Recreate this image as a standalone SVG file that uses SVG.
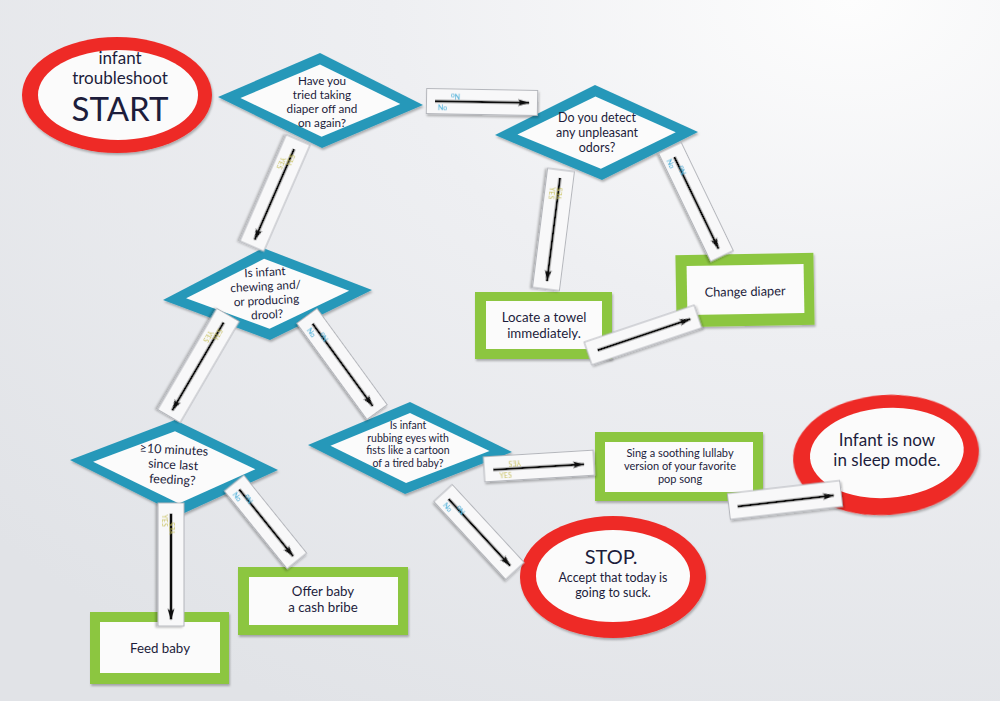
<svg xmlns="http://www.w3.org/2000/svg" width="1000" height="701" viewBox="0 0 1000 701">
<defs>
<radialGradient id="bg" cx="0.85" cy="0" r="1.15">
<stop offset="0" stop-color="#fdfdfd"/>
<stop offset="0.4" stop-color="#eeeff2"/>
<stop offset="1" stop-color="#e1e3e7"/>
</radialGradient>
<filter id="sh" x="-10%" y="-10%" width="125%" height="130%">
<feDropShadow dx="1" dy="2" stdDeviation="1.3" flood-color="#000" flood-opacity="0.28"/>
</filter>
<marker id="ah" markerWidth="12" markerHeight="8" refX="11" refY="4" orient="auto" markerUnits="userSpaceOnUse">
<path d="M0,0.6 L12,4 L0,7.4 L2.5,4 z" fill="#111"/>
</marker>
</defs>
<style>
.t{font-family:"Lato","Open Sans","Noto Sans",sans-serif;fill:#1d1d3b;text-anchor:middle}
.red{fill:#ee2a26}
.teal{fill:#2898b9}
.green{fill:#8cc63f}
.card{fill:#fbfbfb}
.strip{fill:#f8f8f9;stroke:#b4b6bb;stroke-width:1}
.arr{stroke:#111;stroke-width:2.4;marker-end:url(#ah)}
.yes{font-family:"Lato","Open Sans",sans-serif;font-size:7px;fill:#c9c25a}
.no{font-family:"Lato","Open Sans",sans-serif;font-size:7px;fill:#35a9d6}
</style>
<rect width="1000" height="701" fill="url(#bg)"/>

<!-- START -->
<g id="start">
<ellipse class="red" cx="117" cy="95" rx="95" ry="58" filter="url(#sh)"/>
<ellipse class="card" cx="118" cy="95" rx="80" ry="45"/>
<text class="t" x="120" y="64" font-size="17">infant<tspan x="120" dy="20.4">troubleshoot</tspan></text>
<text class="t" x="120" y="121" font-size="33">START</text>
</g>

<!-- Diamond 1 -->
<g id="q-diaper" transform="translate(320,101)">
<polygon class="teal" points="-102,-4 0,-48 103,4 2,47" filter="url(#sh)"/>
<polygon class="card" points="-102,-4 0,-48 103,4 2,47" transform="scale(0.78,0.76)"/>
<text class="t" x="2" y="-16" font-size="11.7">Have you<tspan x="2" dy="14">tried taking</tspan><tspan x="2" dy="14">diaper off and</tspan><tspan x="2" dy="14">on again?</tspan></text>
</g>

<!-- Diamond 2 -->
<g id="q-odors" transform="translate(597,133)">
<polygon class="teal" points="-102,2 -2,-48 101,-1 5,47" filter="url(#sh)"/>
<polygon class="card" points="-102,2 -2,-48 101,-1 5,47" transform="scale(0.78,0.76)"/>
<text class="t" x="0" y="-11" font-size="12.5">Do you detect<tspan x="0" dy="15">any unpleasant</tspan><tspan x="0" dy="15">odors?</tspan></text>
</g>

<!-- Diamond 3 -->
<g id="q-drool" transform="translate(268,293)">
<polygon class="teal" points="-105,7 -5,-45 104,-3 2,47" filter="url(#sh)"/>
<polygon class="card" points="-105,7 -5,-45 104,-3 2,47" transform="scale(0.78,0.76)"/>
<text class="t" x="-2" y="-17" font-size="11.8" transform="rotate(-3)">Is infant<tspan x="-2" dy="14.2">chewing and/</tspan><tspan x="-2" dy="14.2">or producing</tspan><tspan x="-2" dy="14.2">drool?</tspan></text>
</g>

<!-- Diamond 4 -->
<g id="q-feeding" transform="translate(175,467)">
<polygon class="teal" points="-105,-7 0,-47 103,3 5,48" filter="url(#sh)"/>
<polygon class="card" points="-105,-7 0,-47 103,3 5,48" transform="scale(0.78,0.76)"/>
<text class="t" x="-2" y="-13" font-size="12.5" transform="rotate(3)">≥10 minutes<tspan x="-2" dy="15">since last</tspan><tspan x="-2" dy="15">feeding?</tspan></text>
</g>

<!-- Diamond 5 -->
<g id="q-rubbing" transform="translate(410,448)">
<polygon class="teal" points="-102,-3 0,-46 102,4 -5,46" filter="url(#sh)"/>
<polygon class="card" points="-102,-3 0,-46 102,4 -5,46" transform="scale(0.78,0.76)"/>
<text class="t" x="-2" y="-19" font-size="10.5">Is infant<tspan x="-2" dy="12.6">rubbing eyes with</tspan><tspan x="-2" dy="12.6">fists like a cartoon</tspan><tspan x="-2" dy="12.6">of a tired baby?</tspan></text>
</g>

<!-- Green action boxes -->
<g id="towel">
<rect class="green" x="475" y="292" width="137" height="67" filter="url(#sh)"/>
<rect class="card" x="486" y="301" width="116" height="48"/>
<text class="t" x="544" y="322" font-size="13.3">Locate a towel<tspan x="544" dy="16">immediately.</tspan></text>
</g>

<g id="change-diaper" transform="rotate(-1 745 290)">
<rect class="green" x="676" y="254" width="138" height="72" filter="url(#sh)"/>
<rect class="card" x="687" y="265" width="117" height="49"/>
<text class="t" x="745" y="296" font-size="12.8">Change diaper</text>
</g>

<g id="lullaby">
<rect class="green" x="595" y="432" width="168" height="69" filter="url(#sh)"/>
<rect class="card" x="605" y="442" width="148" height="50"/>
<text class="t" x="680" y="457" font-size="11">Sing a soothing lullaby<tspan x="680" dy="13.2">version of your favorite</tspan><tspan x="680" dy="13.2">pop song</tspan></text>
</g>

<g id="feed-baby">
<rect class="green" x="90" y="612" width="139" height="72" filter="url(#sh)"/>
<rect class="card" x="100" y="622" width="120" height="51"/>
<text class="t" x="160" y="653" font-size="13.3">Feed baby</text>
</g>

<g id="cash-bribe">
<rect class="green" x="238" y="567" width="170" height="68" filter="url(#sh)"/>
<rect class="card" x="249" y="577" width="149" height="48"/>
<text class="t" x="323" y="596" font-size="13.3">Offer baby<tspan x="323" dy="16">a cash bribe</tspan></text>
</g>

<!-- Terminal ellipses -->
<g id="sleep">
<ellipse class="red" cx="886" cy="455" rx="93" ry="60" filter="url(#sh)" transform="rotate(-4 886 455)"/>
<ellipse class="card" cx="887" cy="453" rx="77" ry="45" transform="rotate(-4 886 455)"/>
<text class="t" x="887" y="446" font-size="17">Infant is now<tspan x="887" dy="20.4">in sleep mode.</tspan></text>
</g>

<g id="stop">
<ellipse class="red" cx="613" cy="577" rx="93" ry="61" filter="url(#sh)"/>
<ellipse class="card" cx="613" cy="576" rx="77" ry="46"/>
<text class="t" x="611" y="564" font-size="20">STOP.</text>
<text class="t" x="613" y="582" font-size="12.5">Accept that today is<tspan x="613" dy="15">going to suck.</tspan></text>
</g>

<!-- Connectors -->
<g id="connectors">
<g transform="translate(482,102) rotate(1)" filter="url(#sh)">
<rect class="strip" x="-55.5" y="-12.5" width="111" height="25"/>
<line class="arr" x1="-47" y1="0" x2="47" y2="0"/>
<text class="no" transform="translate(-22,-8) rotate(180)">No</text>
<text class="no" x="-44" y="9">No</text>
</g>
<g transform="translate(275,193) rotate(113.5)" filter="url(#sh)">
<rect class="strip" x="-58" y="-13" width="116" height="26"/>
<line class="arr" x1="-48" y1="0" x2="51" y2="0"/>
<text class="yes" transform="translate(-30,-4) rotate(180)">YES</text>
<text class="yes" x="-36" y="9">YES</text>
</g>
<g transform="translate(696,202) rotate(64.3)" filter="url(#sh)">
<rect class="strip" x="-60" y="-12.5" width="120" height="25"/>
<line class="arr" x1="-50" y1="0" x2="52" y2="0"/>
<text class="no" transform="translate(-30,-4) rotate(180)">No</text>
<text class="no" x="-50" y="9">No</text>
</g>
<g transform="translate(553.5,229.5) rotate(97.2)" filter="url(#sh)">
<rect class="strip" x="-60" y="-13.5" width="120" height="27"/>
<line class="arr" x1="-52" y1="0" x2="52" y2="0"/>
<text class="yes" transform="translate(-30,-4) rotate(180)">YES</text>
<text class="yes" x="-42" y="9">YES</text>
</g>
<g transform="translate(643,335) rotate(-18.6)" filter="url(#sh)">
<rect class="strip" x="-58" y="-12" width="116" height="24"/>
<line class="arr" x1="-48" y1="0" x2="50" y2="0"/>
</g>
<g transform="translate(198.5,365.5) rotate(120.3)" filter="url(#sh)">
<rect class="strip" x="-58.5" y="-13" width="117" height="26"/>
<line class="arr" x1="-50" y1="0" x2="52" y2="0"/>
<text class="yes" transform="translate(-30,-4) rotate(180)">YES</text>
<text class="yes" x="-36" y="9">YES</text>
</g>
<g transform="translate(342,364) rotate(53.9)" filter="url(#sh)">
<rect class="strip" x="-59.5" y="-12.5" width="119" height="25"/>
<line class="arr" x1="-50" y1="0" x2="52" y2="0"/>
<text class="no" transform="translate(-28,-4) rotate(180)">No</text>
<text class="no" x="-48" y="9">No</text>
</g>
<g transform="translate(171,564.5) rotate(90)" filter="url(#sh)">
<rect class="strip" x="-61.5" y="-13" width="123" height="26"/>
<line class="arr" x1="-51" y1="0" x2="55" y2="0"/>
<text class="yes" transform="translate(-30,-4) rotate(180)">YES</text>
<text class="yes" x="-50" y="9">YES</text>
</g>
<g transform="translate(265.5,522) rotate(51.1)" filter="url(#sh)">
<rect class="strip" x="-50" y="-12.5" width="100" height="25"/>
<line class="arr" x1="-42" y1="0" x2="44" y2="0"/>
<text class="no" transform="translate(-24,-4) rotate(180)">No</text>
<text class="no" x="-42" y="9">No</text>
</g>
<g transform="translate(539,466) rotate(-3.5)" filter="url(#sh)">
<rect class="strip" x="-55" y="-12.5" width="110" height="25"/>
<line class="arr" x1="-46" y1="1" x2="45" y2="1"/>
<text class="yes" transform="translate(-18,-7) rotate(180)">YES</text>
<text class="yes" x="-40" y="10">YES</text>
</g>
<g transform="translate(479,532) rotate(47.3)" filter="url(#sh)">
<rect class="strip" x="-53" y="-12.5" width="106" height="25"/>
<line class="arr" x1="-45" y1="0" x2="46" y2="0"/>
<text class="no" transform="translate(-24,-4) rotate(180)">No</text>
<text class="no" x="-44" y="9">No</text>
</g>
<g transform="translate(785,500) rotate(-6.6)" filter="url(#sh)">
<rect class="strip" x="-56.5" y="-13" width="113" height="26"/>
<line class="arr" x1="-48" y1="1" x2="49" y2="1"/>
</g>
</g>
</svg>
